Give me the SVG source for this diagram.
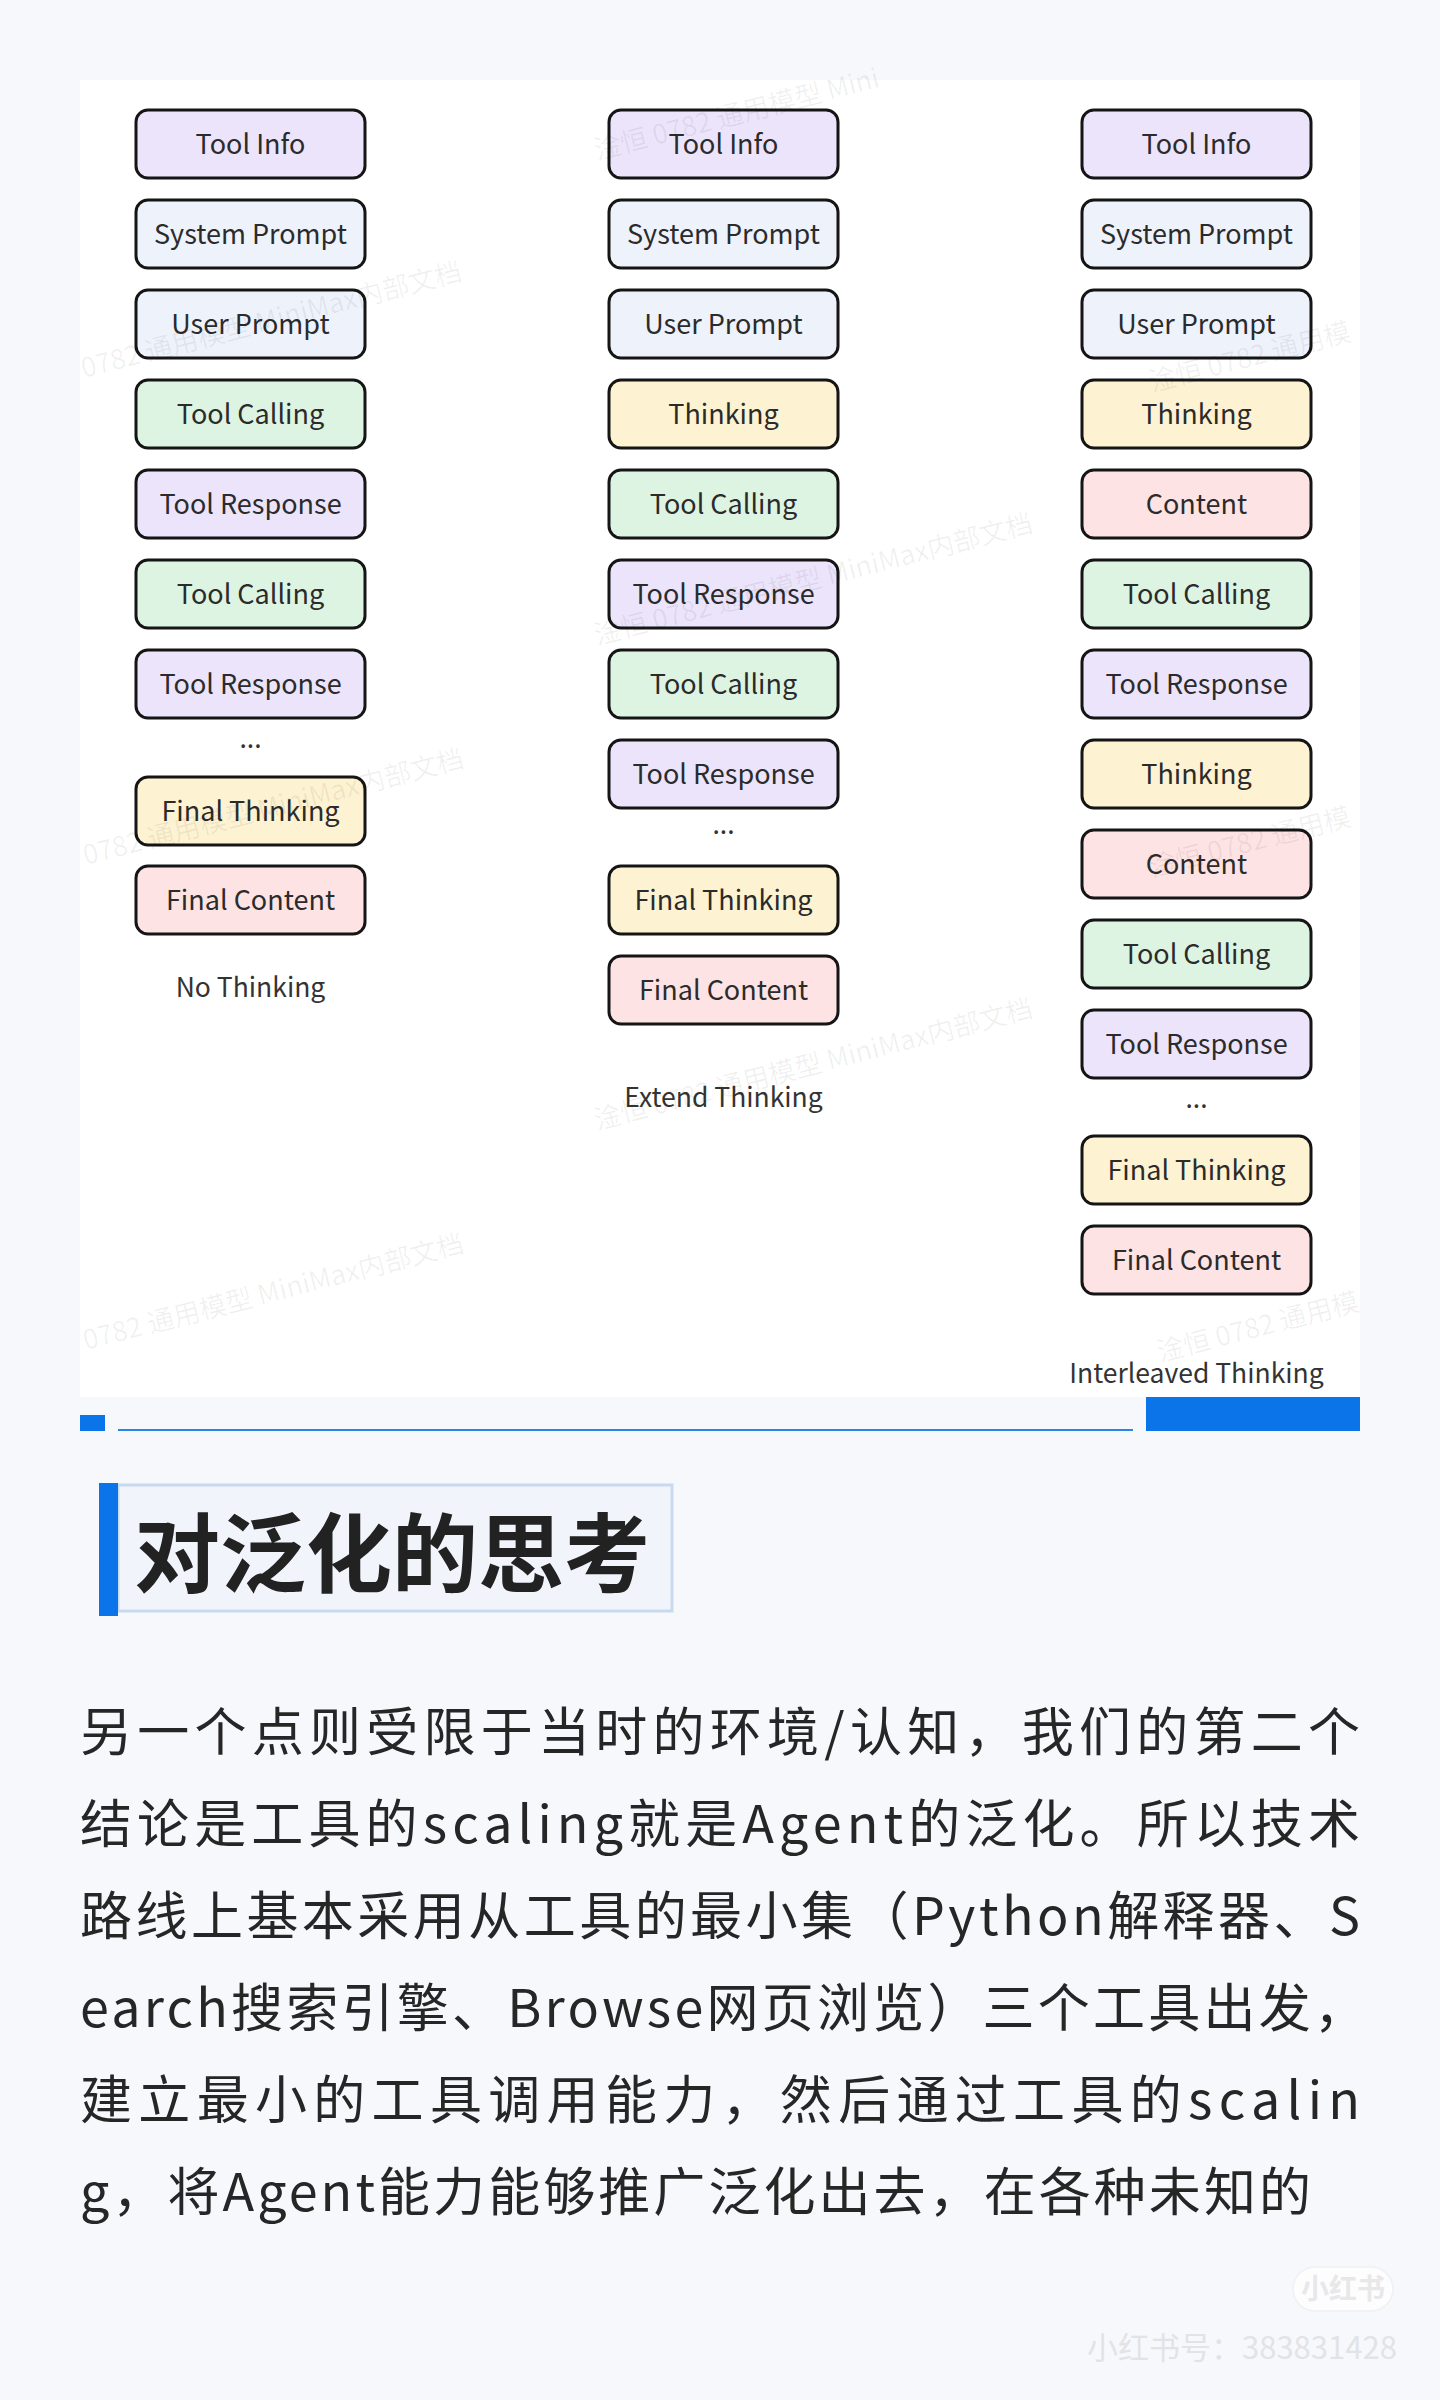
<svg xmlns="http://www.w3.org/2000/svg" width="1440" height="2400" viewBox="0 0 1440 2400">
<defs>
<style>
.box{stroke:#151515;stroke-width:3}
.lav{fill:#ebe4fa}
.pr{fill:#eef2fb}
.tc{fill:#def4e3}
.th{fill:#fdf2d1}
.ct{fill:#fde3e3}
.lbl{font-family:"Noto Sans CJK SC","Noto Sans",sans-serif;font-size:27px;fill:#2b2b2b;text-anchor:middle}
.cap{font-family:"Noto Sans CJK SC","Noto Sans",sans-serif;font-size:26.5px;fill:#333;text-anchor:middle}
.body{font-family:"Noto Sans CJK SC","Noto Sans",sans-serif;font-size:52px;fill:#262626}
.wm{font-family:"Noto Sans CJK SC","Noto Sans",sans-serif;font-size:27px;fill:#000;fill-opacity:0.06}
</style>
</defs>
<rect x="0" y="0" width="1440" height="2400" fill="#f7f8fb"/>
<rect x="80" y="80" width="1280" height="1317" fill="#ffffff"/>

<g id="connectors"/>

<g id="col1">
<g id="c1n1"><rect class="box lav" x="136" y="110" width="229" height="68" rx="12"/><text class="lbl" x="250.5" y="154">Tool Info</text></g>
<g id="c1n2"><rect class="box pr" x="136" y="200" width="229" height="68" rx="12"/><text class="lbl" x="250.5" y="244">System Prompt</text></g>
<g id="c1n3"><rect class="box pr" x="136" y="290" width="229" height="68" rx="12"/><text class="lbl" x="250.5" y="334">User Prompt</text></g>
<g id="c1n4"><rect class="box tc" x="136" y="380" width="229" height="68" rx="12"/><text class="lbl" x="250.5" y="424">Tool Calling</text></g>
<g id="c1n5"><rect class="box lav" x="136" y="470" width="229" height="68" rx="12"/><text class="lbl" x="250.5" y="514">Tool Response</text></g>
<g id="c1n6"><rect class="box tc" x="136" y="560" width="229" height="68" rx="12"/><text class="lbl" x="250.5" y="604">Tool Calling</text></g>
<g id="c1n7"><rect class="box lav" x="136" y="650" width="229" height="68" rx="12"/><text class="lbl" x="250.5" y="694">Tool Response</text></g>
<text class="cap" x="250.5" y="748">...</text>
<g id="c1n8"><rect class="box th" x="136" y="777" width="229" height="68" rx="12"/><text class="lbl" x="250.5" y="821">Final Thinking</text></g>
<g id="c1n9"><rect class="box ct" x="136" y="866" width="229" height="68" rx="12"/><text class="lbl" x="250.5" y="910">Final Content</text></g>
<text class="cap" x="250.5" y="997">No Thinking</text>
</g>

<g id="col2">
<g id="c2n1"><rect class="box lav" x="609" y="110" width="229" height="68" rx="12"/><text class="lbl" x="723.5" y="154">Tool Info</text></g>
<g id="c2n2"><rect class="box pr" x="609" y="200" width="229" height="68" rx="12"/><text class="lbl" x="723.5" y="244">System Prompt</text></g>
<g id="c2n3"><rect class="box pr" x="609" y="290" width="229" height="68" rx="12"/><text class="lbl" x="723.5" y="334">User Prompt</text></g>
<g id="c2n4"><rect class="box th" x="609" y="380" width="229" height="68" rx="12"/><text class="lbl" x="723.5" y="424">Thinking</text></g>
<g id="c2n5"><rect class="box tc" x="609" y="470" width="229" height="68" rx="12"/><text class="lbl" x="723.5" y="514">Tool Calling</text></g>
<g id="c2n6"><rect class="box lav" x="609" y="560" width="229" height="68" rx="12"/><text class="lbl" x="723.5" y="604">Tool Response</text></g>
<g id="c2n7"><rect class="box tc" x="609" y="650" width="229" height="68" rx="12"/><text class="lbl" x="723.5" y="694">Tool Calling</text></g>
<g id="c2n8"><rect class="box lav" x="609" y="740" width="229" height="68" rx="12"/><text class="lbl" x="723.5" y="784">Tool Response</text></g>
<text class="cap" x="723.5" y="834">...</text>
<g id="c2n9"><rect class="box th" x="609" y="866" width="229" height="68" rx="12"/><text class="lbl" x="723.5" y="910">Final Thinking</text></g>
<g id="c2n10"><rect class="box ct" x="609" y="956" width="229" height="68" rx="12"/><text class="lbl" x="723.5" y="1000">Final Content</text></g>
<text class="cap" x="723.5" y="1107">Extend Thinking</text>
</g>

<g id="col3">
<g id="c3n1"><rect class="box lav" x="1082" y="110" width="229" height="68" rx="12"/><text class="lbl" x="1196.5" y="154">Tool Info</text></g>
<g id="c3n2"><rect class="box pr" x="1082" y="200" width="229" height="68" rx="12"/><text class="lbl" x="1196.5" y="244">System Prompt</text></g>
<g id="c3n3"><rect class="box pr" x="1082" y="290" width="229" height="68" rx="12"/><text class="lbl" x="1196.5" y="334">User Prompt</text></g>
<g id="c3n4"><rect class="box th" x="1082" y="380" width="229" height="68" rx="12"/><text class="lbl" x="1196.5" y="424">Thinking</text></g>
<g id="c3n5"><rect class="box ct" x="1082" y="470" width="229" height="68" rx="12"/><text class="lbl" x="1196.5" y="514">Content</text></g>
<g id="c3n6"><rect class="box tc" x="1082" y="560" width="229" height="68" rx="12"/><text class="lbl" x="1196.5" y="604">Tool Calling</text></g>
<g id="c3n7"><rect class="box lav" x="1082" y="650" width="229" height="68" rx="12"/><text class="lbl" x="1196.5" y="694">Tool Response</text></g>
<g id="c3n8"><rect class="box th" x="1082" y="740" width="229" height="68" rx="12"/><text class="lbl" x="1196.5" y="784">Thinking</text></g>
<g id="c3n9"><rect class="box ct" x="1082" y="830" width="229" height="68" rx="12"/><text class="lbl" x="1196.5" y="874">Content</text></g>
<g id="c3n10"><rect class="box tc" x="1082" y="920" width="229" height="68" rx="12"/><text class="lbl" x="1196.5" y="964">Tool Calling</text></g>
<g id="c3n11"><rect class="box lav" x="1082" y="1010" width="229" height="68" rx="12"/><text class="lbl" x="1196.5" y="1054">Tool Response</text></g>
<text class="cap" x="1196.5" y="1108">...</text>
<g id="c3n12"><rect class="box th" x="1082" y="1136" width="229" height="68" rx="12"/><text class="lbl" x="1196.5" y="1180">Final Thinking</text></g>
<g id="c3n13"><rect class="box ct" x="1082" y="1226" width="229" height="68" rx="12"/><text class="lbl" x="1196.5" y="1270">Final Content</text></g>
<text class="cap" x="1196.5" y="1383">Interleaved Thinking</text>
</g>

<g id="watermarks">
<text class="wm" transform="translate(84,378) rotate(-14.5)">0782 通用模型 MiniMax内部文档</text>
<text class="wm" transform="translate(86,865) rotate(-14.5)">0782 通用模型 MiniMax内部文档</text>
<text class="wm" transform="translate(86,1350) rotate(-14.5)">0782 通用模型 MiniMax内部文档</text>
<text class="wm" transform="translate(597,160) rotate(-14.5)">淦恒 0782 通用模型 Mini</text>
<text class="wm" transform="translate(597,645) rotate(-14.5)">淦恒 0782 通用模型 MiniMax内部文档</text>
<text class="wm" transform="translate(597,1130) rotate(-14.5)">淦恒 0782 通用模型 MiniMax内部文档</text>
<text class="wm" transform="translate(1152,392) rotate(-14.5)">淦恒 0782 通用模</text>
<text class="wm" transform="translate(1152,877) rotate(-14.5)">淦恒 0782 通用模</text>
<text class="wm" transform="translate(1160,1362) rotate(-14.5)">淦恒 0782 通用模</text>
</g>

<g id="divider">
<rect x="80" y="1415" width="25" height="16" fill="#0b74e8"/>
<rect x="118" y="1429" width="1015" height="2" fill="#2a84ea"/>
<rect x="1146" y="1397" width="214" height="34" fill="#0b74e8"/>
</g>

<g id="heading">
<rect x="118" y="1485" width="554" height="126" fill="#f1f5fb" stroke="#c8daef" stroke-width="3"/>
<rect x="99" y="1483" width="19" height="133" fill="#0b74e8"/>
<text x="134" y="1586" font-family="'Noto Sans CJK SC',sans-serif" font-size="86" font-weight="700" fill="#222">对泛化的思考</text>
</g>

<g id="bodytext">
<text class="body" x="80" y="1751" textLength="1280" lengthAdjust="spacing">另一个点则受限于当时的环境/认知，我们的第二个</text>
<text class="body" x="80" y="1843" textLength="1280" lengthAdjust="spacing">结论是工具的scaling就是Agent的泛化。所以技术</text>
<text class="body" x="80" y="1935" textLength="1280" lengthAdjust="spacing">路线上基本采用从工具的最小集（Python解释器、S</text>
<text class="body" x="80" y="2027" textLength="1286" lengthAdjust="spacing">earch搜索引擎、Browse网页浏览）三个工具出发，</text>
<text class="body" x="80" y="2119" textLength="1280" lengthAdjust="spacing">建立最小的工具调用能力，然后通过工具的scalin</text>
<text class="body" x="80" y="2211" textLength="1231" lengthAdjust="spacing">g，将Agent能力能够推广泛化出去，在各种未知的</text>
</g>

<g id="footer">
<rect x="1293" y="2267" width="100" height="44" rx="22" fill="#fdfdfe" stroke="#eef0f3" stroke-width="1.5"/>
<text x="1343" y="2299" font-family="'Noto Sans CJK SC',sans-serif" font-size="28" font-weight="700" fill="#e8e8ea" text-anchor="middle">小红书</text>
<text x="1087" y="2359" font-family="'Noto Sans CJK SC',sans-serif" font-size="31" fill="#e2e3e6">小红书号：383831428</text>
</g>
</svg>
